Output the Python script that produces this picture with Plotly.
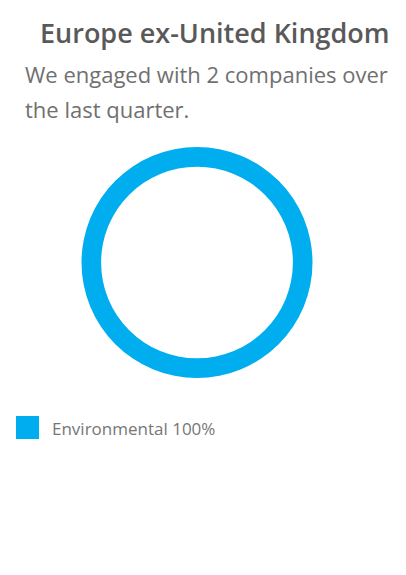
import plotly.graph_objects as go

title_text = "Europe ex-United Kingdom"
subtitle_lines = ["We engaged with 2 companies over", "the last quarter."]
labels = ["Environmental"]
values = [100]
colors = ["#00AEEF"]

OFF = 8  # browser body margin
W, H = 406 - OFF, 575 - OFF

def px(xp):
    return (xp - OFF) / W

def py(yp):
    return 1 - (yp - OFF) / H

cx, cy, r = 197, 262.5, 115.5

fig = go.Figure()
fig.add_trace(go.Pie(
    labels=labels, values=values, hole=0.83, sort=False,
    marker=dict(colors=colors, line=dict(width=0)),
    textinfo="none", hoverinfo="label+percent", showlegend=False,
    domain=dict(x=[px(cx - r), px(cx + r)], y=[py(cy + r), py(cy - r)]),
))

ann = []
ann.append(dict(text=title_text, x=px(38), y=py(32.5), xref="paper", yref="paper",
                xanchor="left", yanchor="middle", showarrow=False,
                font=dict(family="Open Sans", size=27, color="#595959", weight=600)))
for i, line in enumerate(subtitle_lines):
    ann.append(dict(text=line, x=px(23), y=py(74 + 35 * i), xref="paper", yref="paper",
                    xanchor="left", yanchor="middle", showarrow=False,
                    font=dict(family="Open Sans", size=22, color="#707070")))

total = sum(values)
shapes = []
for i, (lab, v, c) in enumerate(zip(labels, values, colors)):
    y0 = 416 + i * 30
    shapes.append(dict(type="rect", xref="paper", yref="paper",
                       x0=px(16), x1=px(39), y0=py(y0 + 23), y1=py(y0),
                       fillcolor=c, line=dict(width=0)))
    ann.append(dict(text=f"{lab} {round(100 * v / total)}%", x=px(50), y=py(y0 + 12),
                    xref="paper", yref="paper", xanchor="left", yanchor="middle",
                    showarrow=False, font=dict(family="Open Sans", size=17, color="#767676")))

fig.update_layout(
    width=W, height=H, margin=dict(l=0, r=0, t=0, b=0),
    paper_bgcolor="white", plot_bgcolor="white",
    annotations=ann, shapes=shapes, showlegend=False,
)
fig.write_html("out.html")
